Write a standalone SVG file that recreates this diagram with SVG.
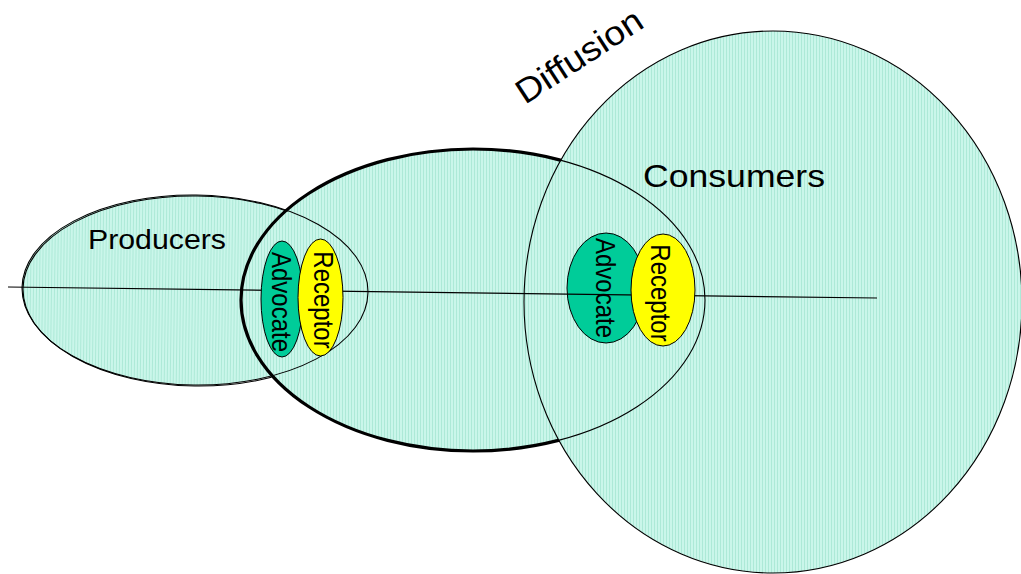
<svg xmlns="http://www.w3.org/2000/svg" width="1021" height="574" viewBox="0 0 1021 574">
<defs>
<pattern id="hatch" width="3" height="4" patternUnits="userSpaceOnUse"><rect width="3" height="4" fill="#caf6ea"/><rect width="1" height="4" fill="#ade9d7"/></pattern>
<mask id="outsideCons" maskUnits="userSpaceOnUse" x="0" y="0" width="1021" height="574"><rect width="1021" height="574" fill="#fff"/><ellipse cx="773" cy="302" rx="249" ry="271" fill="#000"/></mask>
<mask id="outsideMid" maskUnits="userSpaceOnUse" x="0" y="0" width="1021" height="574"><rect width="1021" height="574" fill="#fff"/><ellipse cx="473" cy="300" rx="232" ry="151" fill="#000"/></mask>
</defs>
<style>
.fill{fill:url(#hatch);stroke:none}
.thin{fill:none;stroke:#000;stroke-width:1.1}
.thick{fill:none;stroke:#000;stroke-width:3.2}
.lbl{font-family:"Liberation Sans",Arial,sans-serif;fill:#000}
.adv{fill:#00cc99;stroke:#000;stroke-width:1}
.rec{fill:#ffff00;stroke:#000;stroke-width:1}
</style>
<g id="fills">
<ellipse class="fill" cx="773" cy="302" rx="249" ry="271"/>
<ellipse class="fill" cx="195" cy="290" rx="173" ry="95" transform="rotate(0.8 195 290)"/>
<ellipse class="fill" cx="473" cy="300" rx="232" ry="151"/>
</g>
<g id="producers">
<ellipse class="thin" cx="195" cy="290" rx="173" ry="95" transform="rotate(0.8 195 290)"/>
<ellipse class="thin" cx="196" cy="291" rx="173" ry="95" transform="rotate(0.8 195 290)" mask="url(#outsideMid)" stroke-width="0.9"/>
<text class="lbl" x="88" y="249" font-size="27" textLength="138" lengthAdjust="spacingAndGlyphs">Producers</text>
</g>
<g id="diffusion">
<ellipse class="thick" cx="473" cy="300" rx="232" ry="151" mask="url(#outsideCons)"/>
<ellipse class="thin" cx="473" cy="300" rx="232" ry="151"/>
<text class="lbl" transform="translate(525,105) rotate(-33)" font-size="34" textLength="144" lengthAdjust="spacingAndGlyphs">Diffusion</text>
</g>
<g id="consumers">
<ellipse class="thin" cx="773" cy="302" rx="249" ry="271"/>
<text class="lbl" x="643" y="187" font-size="32" textLength="182" lengthAdjust="spacingAndGlyphs">Consumers</text>
</g>
<g id="advocate-consumers">
<ellipse class="adv" cx="606" cy="288" rx="39" ry="55"/>
</g>
<g id="connectors">
<line x1="8" y1="287" x2="877" y2="298" stroke="#000" stroke-width="1.2"/>
</g>
<g id="advocate-consumers-label">
<text class="lbl" transform="translate(606,288) scale(1.15,1) rotate(90)" x="0" y="8.5" font-size="24" text-anchor="middle">Advocate</text>
</g>
<g id="advocate-producers">
<ellipse class="adv" cx="282" cy="299" rx="21" ry="58"/>
<text class="lbl" transform="translate(282,302) scale(1.15,1) rotate(90)" x="0" y="8.5" font-size="24" text-anchor="middle">Advocate</text>
</g>
<g id="receptor-producers">
<ellipse class="rec" cx="320.5" cy="297.5" rx="22.5" ry="58.5"/>
<text class="lbl" transform="translate(324,300) scale(1.15,1) rotate(90)" x="0" y="8.5" font-size="24" text-anchor="middle">Receptor</text>
</g>
<g id="receptor-consumers">
<ellipse class="rec" cx="663" cy="290" rx="32" ry="56"/>
<text class="lbl" transform="translate(661,293) scale(1.15,1) rotate(90)" x="0" y="8.5" font-size="24" text-anchor="middle">Receptor</text>
</g>
</svg>
